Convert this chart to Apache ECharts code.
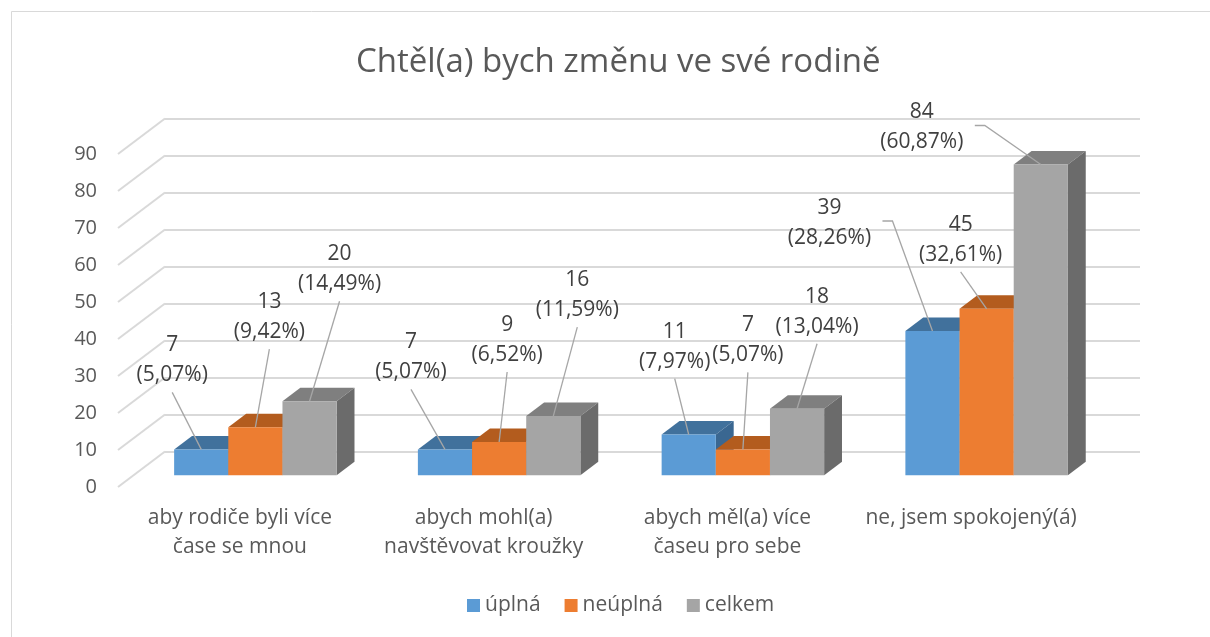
<!DOCTYPE html>
<html>
<meta charset="UTF-8">
<title>rodina-3d</title>
<style type="text/css">
    html,
    body {
        margin: 0px;
        height: 100%;
        width: 100%;
        background: #fff;
    }

    #chart {
        width: 1210px;
        height: 637px;
    }
</style>
<script src="https://cdn.jsdelivr.net/npm/echarts@6/dist/echarts.min.js"></script>

<body>
    <div id="chart"></div>
    <script>
        // data
        const categories = [
            'aby rodiče byli více\nčase se mnou',
            'abych mohl(a)\nnavštěvovat kroužky',
            'abych měl(a) více\nčaseu pro sebe',
            'ne, jsem spokojený(á)'
        ];
        const seriesNames = ['úplná', 'neúplná', 'celkem'];
        const uplna = [7, 7, 11, 39];
        const neuplna = [13, 9, 7, 45];
        const celkem = [20, 16, 18, 84];
        const uplnaPct = ['5,07%', '5,07%', '7,97%', '28,26%'];
        const neuplnaPct = ['9,42%', '6,52%', '5,07%', '32,61%'];
        const celkemPct = ['14,49%', '11,59%', '13,04%', '60,87%'];
        const yTicks = [0, 10, 20, 30, 40, 50, 60, 70, 80, 90];

        // look of the fake 3d
        const FONT = 'Open Sans';
        const DEPTH = [47, -35.5];   // floor depth, front edge -> back wall
        const F0 = 0.33, F1 = 0.71;  // bar front / back inside the depth
        const colors = [
            { front: '#5B9BD5', top: '#41719C', side: '#3A6791' },
            { front: '#ED7D31', top: '#B35C1E', side: '#A0521B' },
            { front: '#A5A5A5', top: '#7F7F7F', side: '#6B6B6B' }
        ];
        // where each data label sits, relative to the bar's top front centre
        const labelOffsets = [
            [[-29, -89], [-34, -92], [-14, -88], [-103, -108]],
            [[14, -110], [8, -102], [5, -109], [-26, -69]],
            [[30, -132], [24, -121], [20, -97], [-119, -37]]
        ];
        const sideLeader = [
            [false, false, false, true],
            [false, false, false, false],
            [false, false, false, true]
        ];

        const values = [uplna, neuplna, celkem];
        const pcts = [uplnaPct, neuplnaPct, celkemPct];

        function barGeom(api, s) {
            const cat = api.value(0), v = api.value(1);
            const base = api.coord([cat, 0]);
            const top = api.coord([cat, v]);
            const band = api.size([1, 0])[0];
            const groupW = band / 1.5;
            const w = groupW / 3;
            const x0 = base[0] - groupW / 2 + s * w + DEPTH[0] * F0;
            const yb = base[1] + DEPTH[1] * F0;
            const yt = top[1] + DEPTH[1] * F0;
            const dx = DEPTH[0] * (F1 - F0), dy = DEPTH[1] * (F1 - F0);
            return { cat, v, x0, yb, yt, w, dx, dy };
        }

        function barRender(s) {
            return function (params, api) {
                const g = barGeom(api, s);
                const c = colors[s];
                const { x0, yb, yt, w, dx, dy } = g;
                return {
                    type: 'group',
                    children: [
                        {
                            type: 'polygon',
                            shape: { points: [[x0, yt], [x0 + w, yt], [x0 + w + dx, yt + dy], [x0 + dx, yt + dy]] },
                            style: { fill: c.top }
                        },
                        {
                            type: 'polygon',
                            shape: { points: [[x0 + w, yt], [x0 + w + dx, yt + dy], [x0 + w + dx, yb + dy], [x0 + w, yb]] },
                            style: { fill: c.side }
                        },
                        {
                            type: 'rect',
                            shape: { x: x0, y: yt, width: w, height: yb - yt },
                            style: { fill: c.front }
                        }
                    ]
                };
            };
        }

        function labelRender(s) {
            return function (params, api) {
                const g = barGeom(api, s);
                const ax = g.x0 + g.w / 2, ay = g.yt;
                const off = labelOffsets[s][g.cat];
                const cx = ax + off[0], cy = ay + off[1];
                const txt = g.v + '\n(' + pcts[s][g.cat] + ')';
                let pts;
                if (sideLeader[s][g.cat]) {
                    const sx = cx + 53;
                    pts = [[sx, cy - 2], [sx + 10, cy - 2], [ax, ay]];
                } else {
                    pts = [[cx, cy + 32], [ax, ay]];
                }
                return {
                    type: 'group',
                    children: [
                        {
                            type: 'polyline',
                            shape: { points: pts },
                            style: { stroke: '#A6A6A6', lineWidth: 1.3, fill: null }
                        },
                        {
                            type: 'text',
                            x: cx,
                            y: cy,
                            style: {
                                text: txt,
                                align: 'center',
                                verticalAlign: 'middle',
                                fontFamily: FONT,
                                fontSize: 21,
                                lineHeight: 30,
                                fill: '#404040'
                            }
                        }
                    ]
                };
            };
        }

        const series = [];
        // side diagonals of the floor/wall grid
        series.push({
            type: 'custom',
            name: 'grid-diag',
            xAxisIndex: 0,
            yAxisIndex: 0,
            silent: true,
            z: 1,
            data: yTicks.map(t => [0, t]),
            renderItem: function (params, api) {
                const p = api.coord([0, api.value(1)]);
                const band = api.size([1, 0])[0];
                const x = p[0] - band / 2;
                return {
                    type: 'line',
                    shape: { x1: x, y1: p[1], x2: x + DEPTH[0], y2: p[1] + DEPTH[1] },
                    style: { stroke: '#D9D9D9', lineWidth: 2 }
                };
            }
        });
        seriesNames.forEach((name, s) => {
            series.push({
                type: 'custom',
                name: name,
                xAxisIndex: 0,
                yAxisIndex: 0,
                z: 2,
                itemStyle: { color: colors[s].front },
                data: values[s].map((v, i) => [i, v]),
                renderItem: barRender(s)
            });
        });
        seriesNames.forEach((name, s) => {
            series.push({
                type: 'custom',
                name: name + '-label',
                xAxisIndex: 0,
                yAxisIndex: 0,
                z: 3,
                silent: true,
                data: values[s].map((v, i) => [i, v]),
                renderItem: labelRender(s)
            });
        });

        const chart = echarts.init(document.querySelector('#chart'));
        const options = {
            animation: false,
            backgroundColor: '#fff',
            title: {
                text: 'Chtěl(a) bych změnu ve své rodině',
                left: 356,
                top: 46,
                padding: 0,
                textStyle: { fontFamily: FONT, fontSize: 33, fontWeight: 'normal', color: '#595959' }
            },
            legend: {
                data: seriesNames,
                left: 467,
                top: 595,
                padding: 0,
                icon: 'rect',
                itemWidth: 13,
                itemHeight: 13,
                itemGap: 24,
                itemTextGap: 4,
                textStyle: { fontFamily: FONT, fontSize: 21, color: '#595959' }
            },
            graphic: [{
                type: 'rect',
                shape: { x: 11.5, y: 11.5, width: 1400, height: 800 },
                style: { fill: null, stroke: '#D9D9D9', lineWidth: 1 },
                silent: true
            }],
            grid: [
                // front edge of the floor
                { left: 118, right: 117, top: 154, bottom: 150 },
                // back wall
                { left: 165, right: 70, top: 118.5, bottom: 185.5 }
            ],
            xAxis: [
                {
                    type: 'category',
                    gridIndex: 0,
                    data: categories,
                    axisLine: { show: false },
                    axisTick: { show: false },
                    axisLabel: {
                        margin: 17,
                        interval: 0,
                        fontFamily: FONT,
                        fontSize: 21,
                        lineHeight: 29,
                        color: '#595959'
                    }
                },
                {
                    type: 'category',
                    gridIndex: 1,
                    data: categories,
                    show: false
                }
            ],
            yAxis: [
                {
                    type: 'value',
                    gridIndex: 0,
                    min: 0,
                    max: 90,
                    interval: 10,
                    axisLine: { show: false },
                    axisTick: { show: false },
                    splitLine: { show: false },
                    axisLabel: {
                        margin: 21,
                        fontFamily: FONT,
                        fontSize: 20,
                        color: '#595959'
                    }
                },
                {
                    type: 'value',
                    gridIndex: 1,
                    min: 0,
                    max: 90,
                    interval: 10,
                    axisLine: { show: false },
                    axisTick: { show: false },
                    axisLabel: { show: false },
                    splitLine: { lineStyle: { color: '#D9D9D9', width: 2 } }
                }
            ],
            series: series
        };
        chart.setOption(options);
    </script>
</body>

</html>
